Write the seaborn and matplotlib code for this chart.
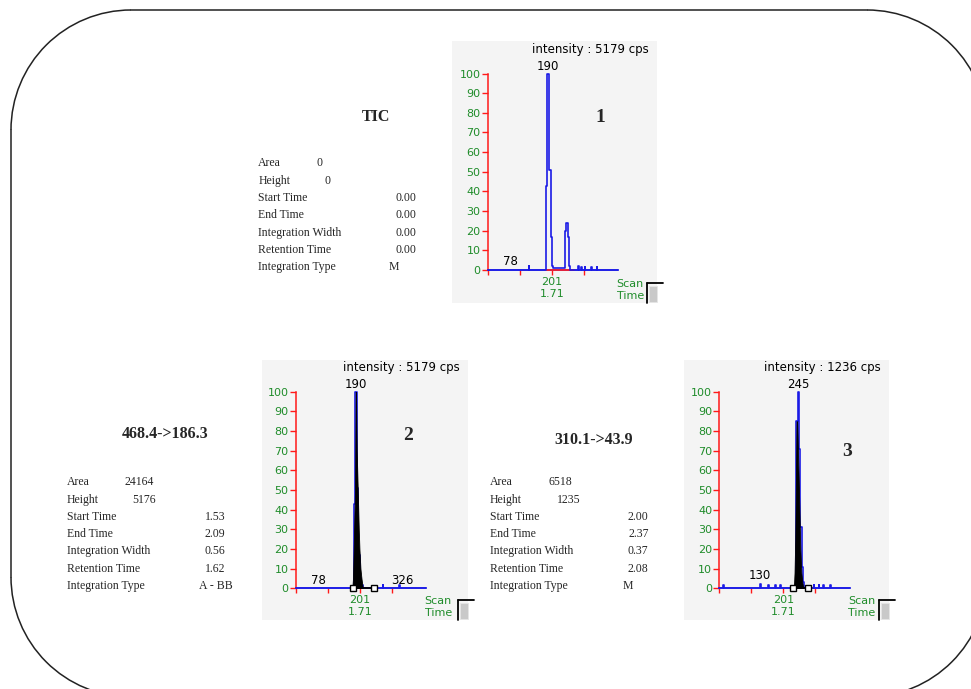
import matplotlib
matplotlib.use("Agg")
import matplotlib.pyplot as plt
import seaborn as sns
import pandas as pd
from matplotlib.patches import Rectangle, Arc
from matplotlib.lines import Line2D

# ---------------- data ----------------
# Panel 1: TIC trace (scan number, relative intensity %)
tic_scans = [12, 133, 135, 183, 187, 194, 198, 202, 205, 239, 243, 248, 252, 256,
             279, 281, 288, 290, 298, 300, 318, 320, 333, 335, 397]
tic_int = [0, 2, 0, 43, 100, 51, 17, 2, 1, 20, 24, 17, 2, 0,
           2, 0, 1.5, 0, 1.5, 0, 1.5, 0, 1.5, 0, 0]

# Panel 2: 468.4->186.3
mrm1_scans = [12, 184, 188, 193, 197, 201, 206, 212, 269, 271, 318, 320, 397]
mrm1_int = [0, 43, 100, 51, 17, 5, 1.5, 0, 1.5, 0, 1.5, 0, 0]
mrm1_fill_scans = [179, 181, 183, 185, 187, 189, 190, 192, 195, 198, 200, 203, 206, 210]
mrm1_fill_int = [0, 5, 20, 35, 50, 100, 100, 70, 50, 30, 20, 10, 5, 0]
mrm1_bounds = [180, 242]

# Panel 3: 310.1->43.9
mrm2_scans = [12, 24, 26, 132, 134, 156, 158, 176, 178, 192, 194, 239, 243, 247, 251,
              255, 259, 263, 290, 292, 305, 307, 319, 321, 339, 341, 397]
mrm2_int = [0, 1.5, 0, 2, 0, 1.5, 0, 1.5, 0, 1.5, 0, 85, 100, 71, 31,
            11, 3, 0, 1.5, 0, 1.5, 0, 1.5, 0, 1.5, 0, 0]
mrm2_fill_scans = [232, 234, 236, 238, 240, 242, 244, 247, 249, 251, 254, 257, 260]
mrm2_fill_int = [0, 8, 25, 55, 85, 85, 70, 50, 35, 20, 8, 3, 0]
mrm2_bounds = [229, 275]

intensity_texts = ["intensity : 5179 cps", "intensity : 5179 cps", "intensity : 1236 cps"]
peak_labels = ["190", "190", "245"]
minor_labels = [["78"], ["78", "326"], ["130"]]

titles = ["TIC", "468.4->186.3", "310.1->43.9"]
panel_numbers = ["1", "2", "3"]
row_labels = ["Area", "Height", "Start Time", "End Time", "Integration Width",
              "Retention Time", "Integration Type"]
areas = ["0", "24164", "6518"]
heights = ["0", "5176", "1235"]
time_values = [["0.00", "0.00", "0.00", "0.00"],
               ["1.53", "2.09", "0.56", "1.62"],
               ["2.00", "2.37", "0.37", "2.08"]]
int_types = ["M", "A - BB", "M"]
tick_label = "201\n1.71"

# ---------------- style ----------------
W, H = 971, 689
sns.set_theme(style="ticks")
plt.rcParams["font.family"] = ["DejaVu Sans"]
SERIF = ["Liberation Serif", "DejaVu Serif"]
PANEL = "#f4f4f4"
BLUE = "#1a1ae6"
RED = "#ff1a1a"
GREEN = "#1f8c2a"

fig = plt.figure(figsize=(W / 100, H / 100), dpi=100)
fig.patch.set_facecolor("white")


def fx(x):
    return x / W


def fy(y):
    return 1 - y / H


def ptext(x, y, s, **kw):
    fig.text(fx(x), fy(y), s, **kw)


# rounded outer frame drawn on a pixel-space overlay axes
frame_ax = fig.add_axes([0, 0, 1, 1], zorder=-5)
frame_ax.set_xlim(0, W)
frame_ax.set_ylim(H, 0)
frame_ax.axis("off")
FL, FT, FR, FB, RAD = 11, 10, 987, 697, 120
fkw = dict(color="#222222", linewidth=1.1)
frame_ax.add_line(Line2D([FL + RAD, FR - RAD], [FT, FT], **fkw))
frame_ax.add_line(Line2D([FL + RAD, FR - RAD], [FB, FB], **fkw))
frame_ax.add_line(Line2D([FL, FL], [FT + RAD, FB - RAD], **fkw))
frame_ax.add_line(Line2D([FR, FR], [FT + RAD, FB - RAD], **fkw))
for (cx, cy, a1, a2) in [(FL + RAD, FT + RAD, 180, 270), (FR - RAD, FT + RAD, 270, 360),
                         (FR - RAD, FB - RAD, 0, 90), (FL + RAD, FB - RAD, 90, 180)]:
    frame_ax.add_patch(Arc((cx, cy), 2 * RAD, 2 * RAD, theta1=a1, theta2=a2,
                           edgecolor="#222222", linewidth=1.1))

AX_W, AX_H = 130.5, 196.5


def draw_panel(box, origin, scans, inten, itext, plabel, mlabels, mlabel_heights,
               red_seg, fill=None, bounds=None):
    l, t, r, b = box
    fig.add_artist(Rectangle((fx(l), fy(b)), (r - l) / W, (b - t) / H,
                             transform=fig.transFigure, facecolor=PANEL,
                             edgecolor="none", zorder=-1))
    ox, oy = origin
    ax = fig.add_axes([fx(ox), fy(oy), AX_W / W, AX_H / H])
    ax.set_facecolor("none")
    df = pd.DataFrame({"scan": scans, "intensity": inten})
    sns.lineplot(data=df, x="scan", y="intensity", ax=ax, color=BLUE,
                 drawstyle="steps-post", linewidth=1.2, estimator=None,
                 sort=False, zorder=4)
    if fill is not None:
        fs, fi = fill
        ax.fill_between(fs, fi, 0, color="black", linewidth=0.6,
                        edgecolor="black", zorder=5)
    ax.add_line(Line2D(red_seg, [0, 0], color=RED, linewidth=1.2, zorder=3))
    if bounds is not None:
        bdf = pd.DataFrame({"scan": bounds, "intensity": [0, 0]})
        sns.lineplot(data=bdf, x="scan", y="intensity", ax=ax, color="black",
                     marker="s", markersize=5, mfc="white", mec="black",
                     mew=1.0, linewidth=1.3, estimator=None, zorder=6)
    for ln in ax.lines:
        ln.set_clip_on(False)
    ax.set_xlim(12, 397)
    ax.set_ylim(0, 100)
    ax.set_xlabel("")
    ax.set_ylabel("")
    for s in ["top", "right"]:
        ax.spines[s].set_visible(False)
    ax.spines["left"].set_color(RED)
    ax.spines["left"].set_linewidth(1.1)
    ax.spines["bottom"].set_color(BLUE)
    ax.spines["bottom"].set_linewidth(1.1)
    ax.set_yticks(range(0, 101, 10))
    ax.tick_params(axis="y", left=True, colors=RED, labelcolor=GREEN,
                   length=4.3, width=1, pad=0.8, labelsize=8, direction="out")
    ax.set_xticks([12, 106.5, 201, 295.5])
    ax.set_xticklabels(["", "", tick_label, ""])
    ax.tick_params(axis="x", bottom=True, colors=RED, labelcolor=GREEN,
                   length=3.6, width=1, pad=1.5, labelsize=8, direction="out")
    ax.xaxis.get_major_ticks()[2].tick1line.set_color(GREEN)
    # labels on the trace
    ax.annotate(plabel, (float(plabel), 100), xytext=(0, 7.5),
                textcoords="offset pixels", ha="center", va="center",
                fontsize=8.5, color="black", annotation_clip=False)
    for lab, hgt in zip(mlabels, mlabel_heights):
        ax.text(float(lab), hgt, lab, ha="center", va="center",
                fontsize=8.5, color="black", clip_on=False)
    # intensity text
    ptext(r - 8, t + 8, itext, ha="right", va="center", fontsize=8.5,
          color="black")
    # Scan / Time
    axis_end = ox + AX_W
    ptext(axis_end - 1.5, b - 13, "Scan\nTime", ha="left", va="center",
          fontsize=8, color=GREEN, linespacing=1.15)
    # scroll widget
    fig.add_artist(Line2D([fx(r - 10), fx(r + 6)], [fy(b - 20), fy(b - 20)],
                          transform=fig.transFigure, color="black", linewidth=1.3))
    fig.add_artist(Line2D([fx(r - 10), fx(r - 10)], [fy(b - 20), fy(b)],
                          transform=fig.transFigure, color="black", linewidth=1.3))
    fig.add_artist(Rectangle((fx(r - 8), fy(b - 1)), 8 / W, 16 / H,
                             transform=fig.transFigure, facecolor="#c9c9c9",
                             edgecolor="#e6e6e6", linewidth=0.6))
    return ax


# Panel 1 (TIC)
draw_panel((452, 41, 657, 303), (487.7, 270), tic_scans, tic_int,
           intensity_texts[0], peak_labels[0], minor_labels[0], [4.2],
           [182, 268])
# Panel 2
draw_panel((262, 360, 468, 620), (295.7, 588.3), mrm1_scans, mrm1_int,
           intensity_texts[1], peak_labels[1], minor_labels[1], [4.2, 4.2],
           [201, 240], fill=(mrm1_fill_scans, mrm1_fill_int), bounds=mrm1_bounds)
# Panel 3
draw_panel((684, 360, 889, 620), (719.3, 588.3), mrm2_scans, mrm2_int,
           intensity_texts[2], peak_labels[2], minor_labels[2], [6.3],
           [248, 288], fill=(mrm2_fill_scans, mrm2_fill_int), bounds=mrm2_bounds)

# panel numbers
for num, (x, y) in zip(panel_numbers, [(600.7, 117), (408.3, 436), (846.7, 452)]):
    ptext(x, y, num, ha="center", va="center", fontsize=14, fontweight="bold",
          family=SERIF)

# titles
for ttl, (x, y) in zip(titles, [(376, 117), (165, 433.5), (593.3, 439.5)]):
    ptext(x, y, ttl, ha="center", va="center", fontsize=11.5, fontweight="bold",
          family=SERIF)

# info tables
info_layout = [
    dict(lx=258.3, rows=[163.3, 181, 198.3, 215, 232.7, 250, 266.7],
         ax_=316.5, hx=324.5, tr=416.7, tc=394.3),
    dict(lx=66.7, rows=[482.3, 500, 517.3, 534.3, 551, 568.7, 586],
         ax_=124.3, hx=132.7, tr=225.5, tc=215.7),
    dict(lx=490.0, rows=[482.3, 500, 517.3, 534.3, 551, 568.7, 586],
         ax_=548.3, hx=557.3, tr=648.5, tc=627.5),
]
for i, lay in enumerate(info_layout):
    for lab, y in zip(row_labels, lay["rows"]):
        ptext(lay["lx"], y, lab, ha="left", va="center", fontsize=8.5, family=SERIF)
    rows = lay["rows"]
    ptext(lay["ax_"], rows[0], areas[i], ha="left", va="center", fontsize=8.5,
          family=SERIF)
    ptext(lay["hx"], rows[1], heights[i], ha="left", va="center", fontsize=8.5,
          family=SERIF)
    for v, y in zip(time_values[i], rows[2:6]):
        ptext(lay["tr"], y, v, ha="right", va="center", fontsize=8.5, family=SERIF)
    ptext(lay["tc"], rows[6], int_types[i], ha="center", va="center",
          fontsize=8.5, family=SERIF)

fig.savefig("out.png", dpi=100, facecolor="white")
